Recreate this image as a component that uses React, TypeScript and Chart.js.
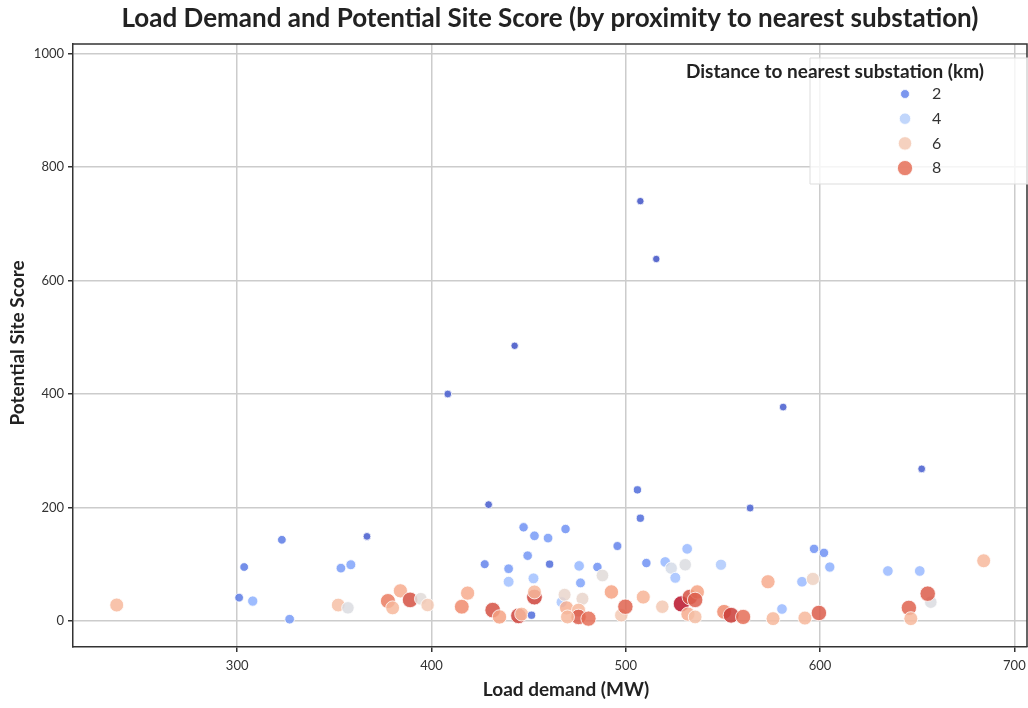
import React, { useEffect, useRef } from "react";
import { Chart, registerables } from "chart.js";

Chart.register(...registerables);

// ---- data ----
const loadDemand: number[] = [
  507.5, 515.7, 442.8, 408.4, 581.0, 652.3, 506.0, 564.0, 429.4, 507.5,
  323.0, 366.8, 303.6, 353.4, 358.5, 301.0, 308.0, 327.0, 352.0, 357.0,
  377.6, 384.0, 380.0, 389.0, 394.5, 398.0, 415.6, 418.6, 431.5, 435.0,
  427.4, 447.4, 453.0, 460.0, 469.0, 449.5, 439.7, 460.8, 476.0, 485.4,
  495.7, 510.6, 520.3, 531.6, 523.4, 530.6, 525.5, 549.0, 439.7, 452.5,
  476.7, 488.0, 467.0, 453.0, 453.0, 468.5, 477.7, 492.6, 469.5, 475.7,
  444.8, 446.4, 451.5, 475.7, 470.0, 480.8, 497.7, 499.8, 509.0, 518.8,
  528.6, 533.0, 536.8, 535.7, 532.0, 535.7, 550.6, 554.2, 560.4, 596.9,
  602.0, 605.0, 634.9, 651.3, 684.2, 573.2, 590.7, 596.3, 580.4, 575.8,
  592.2, 599.4, 645.7, 657.0, 655.4, 646.7, 238.0,
];
const siteScore: number[] = [
  740, 638, 485, 400, 377, 268, 231, 199, 205, 181,
  143, 149, 95, 93, 99, 41, 35, 3, 28, 23,
  35, 53, 23, 37, 39, 28, 25, 49, 19, 7,
  100, 165, 150, 146, 162, 115, 92, 100, 97, 95,
  132, 102, 104, 127, 93, 99, 76, 99, 69, 75,
  67, 80, 33, 42, 51, 46, 39, 51, 23, 19,
  9, 12, 10, 7, 7, 4, 10, 25, 42, 25,
  30, 42, 51, 37, 12, 7, 16, 10, 7, 127,
  120, 95, 88, 88, 106, 69, 69, 74, 21, 4,
  5, 14, 23, 33, 48, 4, 28,
];
const distanceKm: number[] = [
  1.0, 1.0, 1.0, 1.2, 1.2, 1.2, 1.5, 1.3, 1.2, 1.5,
  1.8, 1.2, 1.8, 2.5, 2.7, 1.8, 3.0, 2.5, 6.3, 5.0,
  7.8, 6.8, 6.5, 8.5, 5.2, 6.0, 7.5, 6.8, 8.5, 7.0,
  2.0, 2.3, 2.5, 2.5, 2.3, 2.4, 2.5, 1.5, 3.2, 2.3,
  2.0, 2.3, 3.2, 3.3, 4.8, 5.0, 3.5, 3.8, 3.5, 3.5,
  2.7, 5.2, 3.7, 8.7, 6.5, 5.5, 5.5, 7.0, 6.7, 6.5,
  8.7, 6.5, 1.5, 8.3, 6.5, 8.0, 6.0, 8.2, 6.6, 6.0,
  9.2, 8.5, 7.0, 8.3, 6.8, 6.3, 7.5, 8.8, 8.0, 2.3,
  2.3, 3.0, 3.3, 3.3, 6.5, 6.8, 3.3, 5.7, 3.3, 6.5,
  6.5, 8.3, 8.2, 5.0, 8.3, 6.5, 6.5,
];
const legendDistances: number[] = [2, 4, 6, 8];
const xTicks: number[] = [300, 400, 500, 600, 700];
const yTicks: number[] = [0, 200, 400, 600, 800, 1000];

const TITLE = "Load Demand and Potential Site Score (by proximity to nearest substation)";
const X_LABEL = "Load demand (MW)";
const Y_LABEL = "Potential Site Score";
const LEGEND_TITLE = "Distance to nearest substation (km)";

// coolwarm colormap table
const COOLWARM: number[][] = [
  [59, 76, 192], [68, 90, 204], [77, 104, 215], [87, 117, 225], [98, 130, 234],
  [108, 142, 241], [119, 154, 247], [130, 165, 251], [141, 176, 254], [152, 185, 255],
  [163, 194, 255], [174, 201, 253], [184, 208, 249], [194, 213, 244], [204, 217, 238],
  [213, 219, 230], [221, 221, 221], [229, 216, 209], [236, 211, 197], [241, 204, 185],
  [245, 196, 173], [247, 187, 160], [247, 177, 148], [247, 166, 135], [244, 154, 123],
  [241, 141, 111], [236, 127, 99], [229, 112, 88], [222, 96, 77], [213, 80, 66],
  [203, 62, 56], [192, 40, 47], [180, 4, 38],
];
const D_MIN = 0.9;
const D_MAX = 9.3;

function colorFor(d: number, alpha = 0.85): string {
  let t = (d - D_MIN) / (D_MAX - D_MIN);
  t = Math.max(0, Math.min(1, t));
  const pos = t * (COOLWARM.length - 1);
  const i = Math.min(COOLWARM.length - 2, Math.floor(pos));
  const f = pos - i;
  const a = COOLWARM[i];
  const b = COOLWARM[i + 1];
  const c = a.map((v, k) => Math.round(v + (b[k] - v) * f));
  return `rgba(${c[0]},${c[1]},${c[2]},${alpha})`;
}
function radiusFor(d: number): number {
  return Math.sqrt(7.5 + 6.3 * d);
}

const FONT = "Lato, 'Open Sans', 'DejaVu Sans', sans-serif";

export default function App() {
  const ref = useRef<HTMLCanvasElement | null>(null);
  useEffect(() => {
    if (!ref.current) return;
    const points = loadDemand.map((x, i) => ({ x, y: siteScore[i], d: distanceKm[i] }));

    const decor = {
      id: "decor",
      afterDraw(chart: any) {
        const { ctx, chartArea } = chart;
        const { left, right, top, bottom } = chartArea;
        ctx.save();
        // frame top/right
        ctx.strokeStyle = "#333";
        ctx.lineWidth = 1.5;
        ctx.beginPath();
        ctx.moveTo(left, top);
        ctx.lineTo(right, top);
        ctx.lineTo(right, bottom);
        ctx.stroke();
        // title
        ctx.fillStyle = "#222";
        ctx.textAlign = "center";
        ctx.textBaseline = "middle";
        ctx.font = `bold 26px ${FONT}`;
        ctx.fillText(TITLE, 550, 19);
        // x label
        ctx.font = `bold 19px ${FONT}`;
        ctx.fillText(X_LABEL, 566, 690);
        // y label
        ctx.save();
        ctx.translate(18, 343);
        ctx.rotate(-Math.PI / 2);
        ctx.font = `bold 19px ${FONT}`;
        ctx.fillText(Y_LABEL, 0, 0);
        ctx.restore();
        // legend
        const lx = 810, ly = 58, lw = 230, lh = 126;
        ctx.fillStyle = "rgba(255,255,255,0.8)";
        ctx.strokeStyle = "#dddddd";
        ctx.lineWidth = 1;
        ctx.beginPath();
        ctx.rect(lx, ly, lw, lh);
        ctx.fill();
        ctx.stroke();
        ctx.fillStyle = "#222";
        ctx.font = `bold 19px ${FONT}`;
        ctx.textAlign = "center";
        ctx.fillText(LEGEND_TITLE, 835, 72);
        legendDistances.forEach((d, i) => {
          const y = 94 + i * 24.7;
          ctx.beginPath();
          ctx.arc(905, y, radiusFor(d), 0, Math.PI * 2);
          ctx.fillStyle = colorFor(d);
          ctx.fill();
          ctx.strokeStyle = "#fff";
          ctx.lineWidth = 0.8;
          ctx.stroke();
          ctx.fillStyle = "#333";
          ctx.font = `16px ${FONT}`;
          ctx.textAlign = "left";
          ctx.fillText(String(d), 932, y);
        });
        ctx.restore();
      },
    };

    const chart = new Chart(ref.current, {
      type: "scatter",
      data: {
        datasets: [
          {
            data: points as any,
            pointRadius: (c: any) => radiusFor(c.raw.d),
            pointHoverRadius: (c: any) => radiusFor(c.raw.d),
            pointBackgroundColor: (c: any) => colorFor(c.raw.d),
            pointBorderColor: "#ffffff",
            pointBorderWidth: 0.8,
          },
        ],
      },
      options: {
        responsive: false,
        animation: false,
        layout: { autoPadding: false, padding: { top: 44, right: 1, left: 0, bottom: 0 } },
        plugins: { legend: { display: false }, title: { display: false }, tooltip: { enabled: false } },
        scales: {
          x: {
            type: "linear",
            min: 215.5,
            max: 706.5,
            afterBuildTicks: (s: any) => {
              s.ticks = xTicks.map((v) => ({ value: v }));
            },
            afterFit: (s: any) => {
              s.height = 61;
              s.paddingLeft = 0;
              s.paddingRight = 0;
            },
            grid: { color: "#cccccc", lineWidth: 1.5, tickColor: "#333", tickLength: 5 },
            border: { display: true, color: "#333", width: 1.5 },
            ticks: { color: "#333", font: { size: 13, family: FONT }, padding: 6, callback: (v: any) => String(v) },
          },
          y: {
            type: "linear",
            min: -46,
            max: 1017,
            afterBuildTicks: (s: any) => {
              s.ticks = yTicks.map((v) => ({ value: v }));
            },
            afterFit: (s: any) => {
              s.width = 73;
              s.paddingTop = 0;
              s.paddingBottom = 0;
            },
            grid: { color: "#cccccc", lineWidth: 1.5, tickColor: "#333", tickLength: 5 },
            border: { display: true, color: "#333", width: 1.5 },
            ticks: { color: "#333", font: { size: 13, family: FONT }, padding: 4, callback: (v: any) => String(v) },
          },
        },
      },
      plugins: [decor],
    } as any);
    return () => chart.destroy();
  }, []);

  return (
    <div style={{ position: "absolute", left: 0, top: 0, width: 1028, height: 708, background: "#fff" }}>
      <canvas ref={ref} width={1028} height={708} style={{ width: 1028, height: 708 }} />
    </div>
  );
}
